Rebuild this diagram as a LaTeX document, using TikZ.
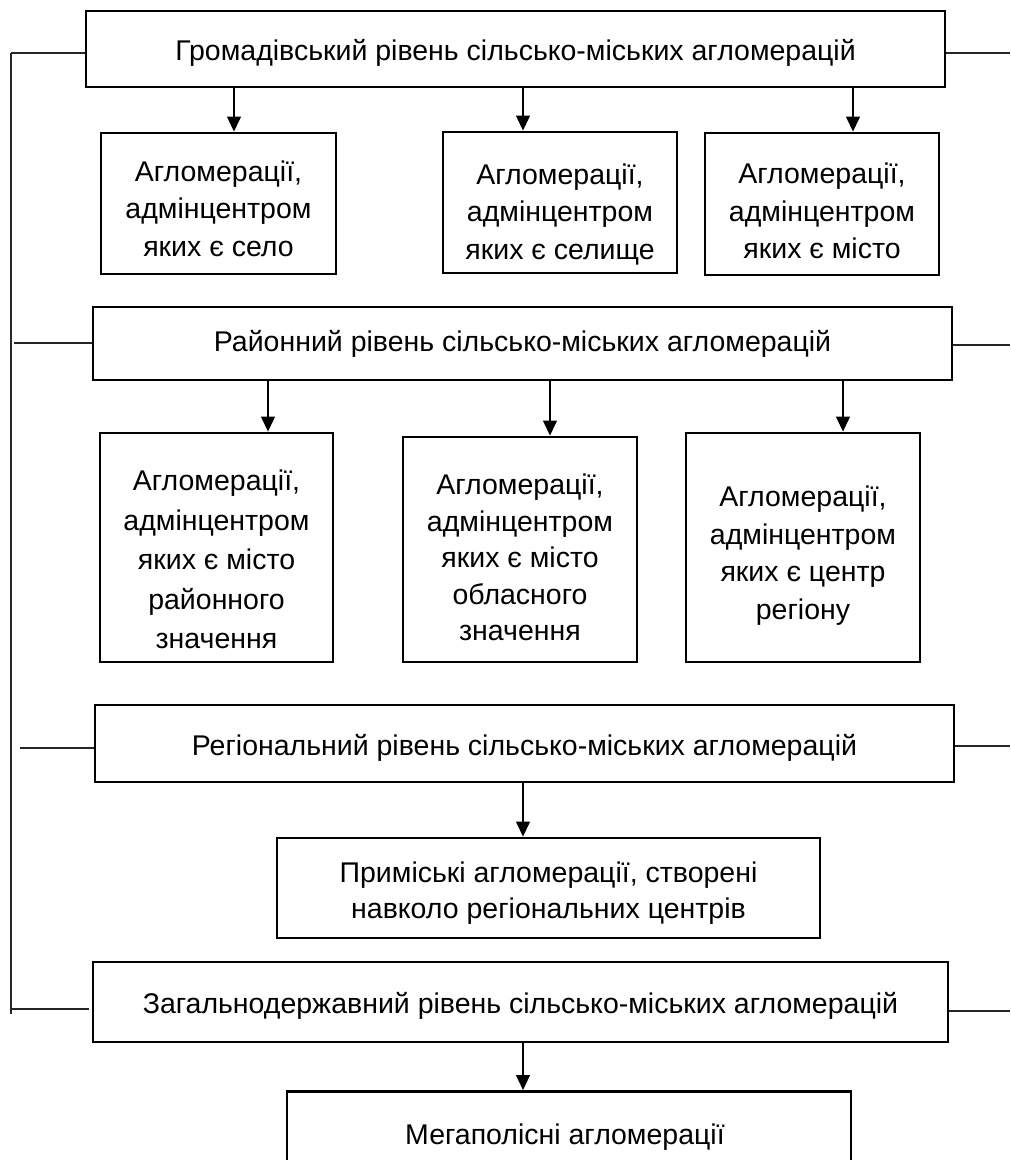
\documentclass[tikz,border=0pt]{standalone}
\usepackage{fontspec}
\setmainfont{Liberation Sans}
\usetikzlibrary{arrows.meta}
\begin{document}
\begin{tikzpicture}[x=1pt,y=-1pt,
  box/.style={draw=black,line width=2.9pt,fill=white,rectangle,inner sep=0pt},
  txt/.style={inner sep=0pt,align=center,font=\fontsize{28.5}{37.5}\selectfont},
  arr/.style={line width=1.2pt,black,-{Triangle[length=15pt,width=14pt]}},
  side/.style={line width=1.4pt,black!85}]
\useasboundingbox (0,0) rectangle (1010,1160);
\clip (0,0) rectangle (1010,1160);
% level boxes
\node[box,minimum width=859pt,minimum height=76pt] (L1) at (515.5,49) {};
\node[txt,yshift=-4pt] (L1t) at (L1) {Громадівський рівень сільсько-міських агломерацій};
\node[box,minimum width=859pt,minimum height=73pt] (L2) at (522.5,343.5) {};
\node[txt] (L2t) at (L2) {Районний рівень сільсько-міських агломерацій};
\node[box,minimum width=859pt,minimum height=77pt] (L3) at (524.5,743.5) {};
\node[txt,yshift=-4pt] (L3t) at (L3) {Регіональний рівень сільсько-міських агломерацій};
\node[box,minimum width=855pt,minimum height=80pt] (L4) at (520.5,1002) {};
\node[txt,yshift=-4pt] (L4t) at (L4) {Загальнодержавний рівень сільсько-міських агломерацій};
% row 1
\node[box,minimum width=235pt,minimum height=141pt] (A) at (218.5,203.5) {};
\node[txt,yshift=-5pt] (At) at (A) {Агломерації,\\адмінцентром\\яких є село};
\node[box,minimum width=234pt,minimum height=141pt] (B) at (560,202.5) {};
\node[txt,yshift=-12pt] (Bt) at (B) {Агломерації,\\адмінцентром\\яких є селище};
\node[box,minimum width=234pt,minimum height=142pt] (C) at (822,204) {};
\node[txt,yshift=-7pt] (Ct) at (C) {Агломерації,\\адмінцентром\\яких є місто};
% row 2
\node[box,minimum width=233pt,minimum height=229pt] (D) at (216.5,547.5) {};
\node[txt,yshift=-12pt,font=\fontsize{28.5}{39.5}\selectfont] (Dt) at (D) {Агломерації,\\адмінцентром\\яких є місто\\районного\\значення};
\node[box,minimum width=234pt,minimum height=225pt] (E) at (520,549.5) {};
\node[txt,yshift=-8pt,font=\fontsize{28.5}{36.5}\selectfont] (Et) at (E) {Агломерації,\\адмінцентром\\яких є місто\\обласного\\значення};
\node[box,minimum width=234pt,minimum height=229pt] (F) at (803,547.5) {};
\node[txt,yshift=-8pt] (Ft) at (F) {Агломерації,\\адмінцентром\\яких є центр\\регіону};
% row 3
\node[box,minimum width=543pt,minimum height=100pt] (G) at (548.5,888) {};
\node[txt,yshift=-5pt,font=\fontsize{28.5}{36.5}\selectfont] (Gt) at (G) {Приміські агломерації, створені\\навколо регіональних центрів};
% row 4
\node[box,minimum width=564pt,minimum height=90pt,anchor=north] (H) at (569,1090) {};
\node[txt] (Ht) at (565,1137) {Мегаполісні агломерації};
% arrows
\draw[arr] (L1.south -| 234,0) -- (A.north -| 234,0);
\draw[arr] (L1.south -| 523,0) -- (B.north -| 523,0);
\draw[arr] (L1.south -| 853,0) -- (C.north -| 853,0);
\draw[arr] (L2.south -| 268,0) -- (D.north -| 268,0);
\draw[arr] (L2.south -| 550,0) -- (E.north -| 550,0);
\draw[arr] (L2.south -| 843,0) -- (F.north -| 843,0);
\draw[arr] (L3.south -| 523,0) -- (G.north -| 523,0);
\draw[arr] (L4.south -| 523,0) -- (H.north -| 523,0);
% left bracket
\coordinate (vt) at (11,53);
\coordinate (vb) at (11,1014);
\draw[side] (vt) -- (vb);
\draw[side] (vt) -- (L1.west |- vt);
\coordinate (l2) at (14,343);
\draw[side] (l2) -- (L2.west |- l2);
\coordinate (l3) at (20,748);
\draw[side] (l3) -- (L3.west |- l3);
\coordinate (l4) at (11,1009);
\coordinate (l4e) at (89,1009);
\draw[side] (l4) -- (l4e);
% right stubs
\coordinate (r1) at (1010,53);
\draw[side] (L1.east |- r1) -- (r1);
\coordinate (r2) at (1010,345);
\draw[side] (L2.east |- r2) -- (r2);
\coordinate (r3) at (1010,746);
\draw[side] (L3.east |- r3) -- (r3);
\coordinate (r4) at (1010,1011);
\draw[side] (L4.east |- r4) -- (r4);
\end{tikzpicture}
\end{document}
